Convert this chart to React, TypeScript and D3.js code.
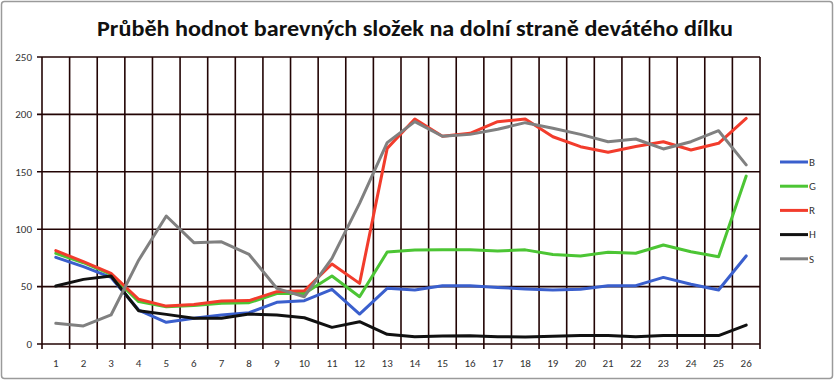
import React from "react";
import * as d3 from "d3";

const categories = Array.from({ length: 26 }, (_, i) => String(i + 1));
const seriesNames = ["B", "G", "R", "H", "S"];
const seriesColors = ["#3a5fcd", "#4cc534", "#f23c2c", "#111111", "#808080"];
const B = [75.5, 67.4, 58, 29.6, 18.9, 22.4, 25.3, 27.3, 36.3, 37.7, 47.6, 26.1, 48.5, 47, 50.8, 50.8, 49.3, 47.9, 47, 47.6, 50.8, 50.8, 58, 52, 47, 76.7];
const G = [79, 70.8, 60.7, 36.9, 32.5, 33.5, 35.4, 36, 44, 44, 59.2, 41.2, 80.1, 81.9, 82, 82, 81, 82, 78, 76.7, 80, 79, 86.2, 80.4, 76, 146.3];
const R = [81.3, 71.7, 61.5, 39, 33, 34.5, 37.5, 37.8, 45.6, 46.4, 69.7, 52.8, 170.4, 196, 181, 183.5, 193.7, 196, 180.5, 171.9, 167, 172, 176.2, 169, 174.8, 196.5];
const H = [50.5, 56.3, 59.2, 29, 25.8, 22.4, 22.4, 26.1, 25.3, 22.9, 14.5, 19.4, 8.4, 6.4, 7, 7.2, 6.4, 6.1, 6.7, 7.3, 7.3, 6.4, 7.3, 7.3, 7.3, 16.5];
const S = [18, 15.7, 25.3, 73, 111.5, 88.3, 89, 78, 48.5, 41.2, 74.6, 122.5, 175.4, 193.7, 181, 182.6, 187, 192.8, 188, 182.6, 176.2, 178.6, 169.9, 176.2, 185.8, 156];
const yTicks = [0, 50, 100, 150, 200, 250];
const title = "Průběh hodnot barevných složek na dolní straně devátého dílku";

const W = 834;
const Hh = 380;
const left = 42, right = 760, top = 57, bottom = 344;
const gridColor = "#220404";
const font = "Calibri, Carlito, 'Open Sans', 'Liberation Sans', sans-serif";

export default function App() {
  const x = d3.scaleBand().domain(categories).range([left, right]).padding(0);
  const y = d3.scaleLinear().domain([0, 250]).range([bottom, top]);
  const data = [B, G, R, H, S];
  const line = d3
    .line<number>()
    .x((_, i) => (x(categories[i]) as number) + x.bandwidth() / 2)
    .y((d) => y(d));
  const boundaries = d3.range(categories.length + 1).map((i) => left + i * x.bandwidth());

  return (
    <svg width={W} height={Hh} style={{ position: "absolute", left: 0, top: 0, background: "#fff" }}>
      <rect x={1.5} y={1.5} width={W - 3} height={Hh - 3} fill="#fff" stroke="#9a9a9a" strokeWidth={1.5} rx={3} />
      <text
        x={415}
        y={36}
        textAnchor="middle"
        fontFamily={font}
        fontWeight="bold"
        fontSize={23}
        fill="#111"
        textLength={636}
        lengthAdjust="spacingAndGlyphs"
      >
        {title}
      </text>
      {yTicks.map((t) => (
        <g key={"y" + t}>
          <line x1={left - 5} x2={right} y1={y(t)} y2={y(t)} stroke={gridColor} strokeWidth={1.6} />
          <text x={32} y={y(t)} dy="0.35em" textAnchor="end" fontFamily={font} fontSize={11} fill="#333">
            {t}
          </text>
        </g>
      ))}
      {boundaries.map((bx, i) => (
        <line key={"v" + i} x1={bx} x2={bx} y1={top} y2={bottom + 5} stroke={gridColor} strokeWidth={1.6} />
      ))}
      {categories.map((c) => (
        <text
          key={"c" + c}
          x={(x(c) as number) + x.bandwidth() / 2}
          y={363}
          dy="0.35em"
          textAnchor="middle"
          fontFamily={font}
          fontSize={11}
          fill="#333"
        >
          {c}
        </text>
      ))}
      {data.map((d, i) => (
        <path
          key={seriesNames[i]}
          d={line(d) || ""}
          fill="none"
          stroke={seriesColors[i]}
          strokeWidth={3}
          strokeLinejoin="round"
          strokeLinecap="round"
        />
      ))}
      {seriesNames.map((n, i) => {
        const ly = 162 + i * 24.2;
        return (
          <g key={"l" + n}>
            <line x1={780} x2={808} y1={ly} y2={ly} stroke={seriesColors[i]} strokeWidth={3} />
            <text x={809} y={ly} dy="0.35em" fontFamily={font} fontSize={11} fill="#333">
              {n}
            </text>
          </g>
        );
      })}
    </svg>
  );
}
